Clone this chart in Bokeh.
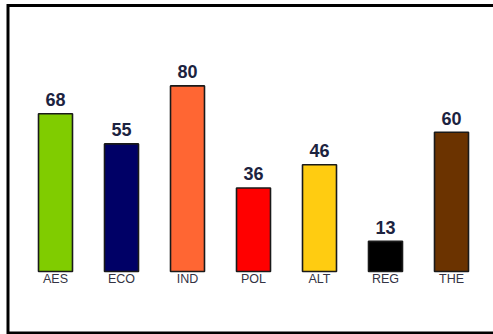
from bokeh.plotting import figure
from bokeh.models import ColumnDataSource, Range1d
from bokeh.core.properties import value
from bokeh.embed import file_html
from bokeh.resources import INLINE

categories = ["AES", "ECO", "IND", "POL", "ALT", "REG", "THE"]
values = [68, 55, 80, 36, 46, 13, 60]
colors = ["#80CC00", "#000066", "#FF6633", "#FF0000", "#FFCC11", "#000000", "#6B3300"]

idx = list(range(len(categories)))
src = ColumnDataSource(dict(x=idx, cat=categories, val=values, col=colors,
                            zero=[0] * len(values),
                            lab=[str(v) for v in values]))

W, H = 493, 334
slot = 66.0          # px per category
first = 55.0         # px centre of first category
base = 271.0         # px of the zero line
ppu = 2.32           # px per value unit

def dx(px):
    return (px - first) / slot

def dy(py):
    return (base - py) / ppu

p = figure(x_range=Range1d(dx(0), dx(W)), y_range=Range1d(dy(H), dy(0)),
           width=W, height=H, output_backend="svg", toolbar_location=None,
           min_border=0)
p.min_border_left = p.min_border_right = p.min_border_top = p.min_border_bottom = 0
p.background_fill_color = "white"
p.border_fill_color = "white"
p.outline_line_color = None
p.grid.visible = False
p.axis.visible = False

p.vbar(x="x", top="val", width=0.515, source=src, fill_color="col",
       line_color="#1a1a1a", line_width=1.6)

p.text(x="x", y="val", text="lab", source=src, text_align="center",
       text_baseline="alphabetic", y_offset=-14,
       text_font=value("Liberation Sans"), text_font_style="bold",
       text_font_size="18px", text_color="#1c2340")

p.text(x="x", y="zero", text="cat", source=src, text_align="center",
       text_baseline="alphabetic", y_offset=7,
       text_font=value("Liberation Sans"),
       text_font_size="12.5px", text_color="#333344")

# frame border (open on the right, running past the page edge)
p.line(x=[dx(560), dx(7.5), dx(7.5), dx(560)],
       y=[dy(5), dy(5), dy(332.5), dy(332.5)],
       line_color="black", line_width=3, line_join="miter")

open("out.html", "w").write(file_html(p, INLINE))
